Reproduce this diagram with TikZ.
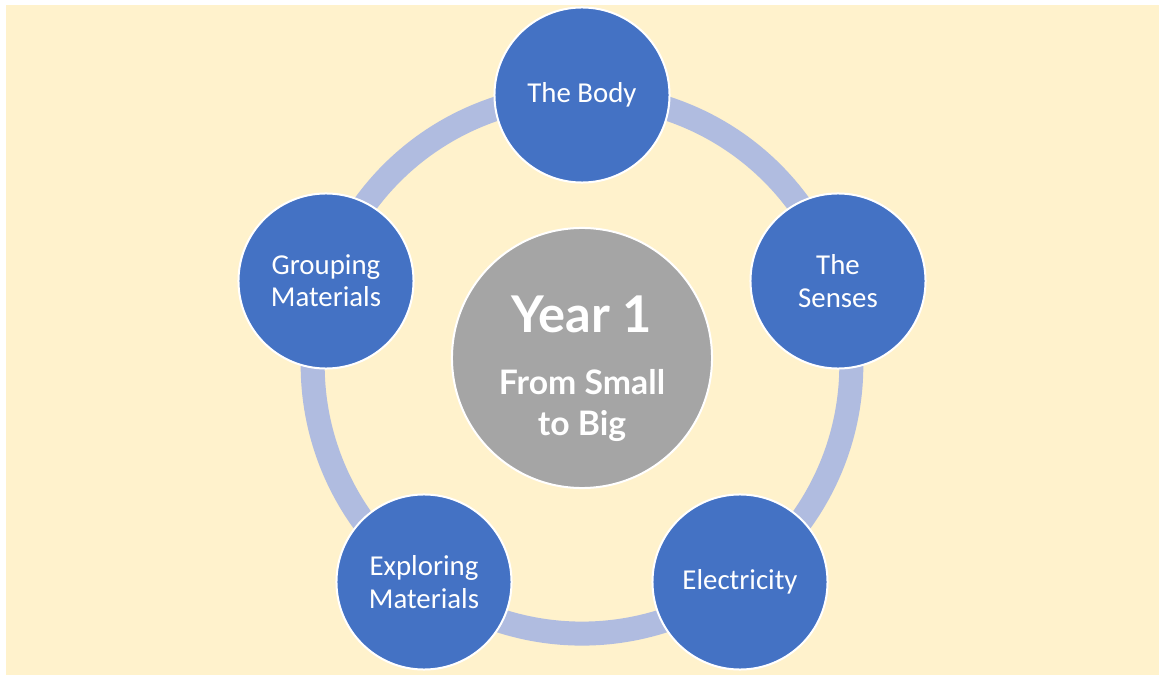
\documentclass[tikz,border=0pt]{standalone}
\usepackage{fontspec}
\setmainfont{Carlito}
\newfontfamily\roundfont{Lato}
\usetikzlibrary{backgrounds}
\definecolor{pagebg}{RGB}{255,242,204}
\definecolor{topicblue}{RGB}{68,114,196}
\definecolor{ringblue}{RGB}{176,188,224}
\definecolor{hubgrey}{RGB}{165,165,165}

\begin{document}
\begin{tikzpicture}[x=0.025cm,y=-0.025cm,
  topic/.style={circle,fill=topicblue,draw=white,line width=0.05cm,minimum size=4.375cm,inner sep=0pt,align=center,text=white,font=\fontsize{20.5}{23}\selectfont},
  hub/.style={circle,fill=hubgrey,draw=white,line width=0.05cm,minimum size=6.5cm,inner sep=0pt,align=center,text=white,font=\roundfont\bfseries\fontsize{24}{28.5}\selectfont},
  ringline/.style={draw=ringblue,line width=0.6cm,looseness=0.95}]
\useasboundingbox (0,0) rectangle (1160,675);

\node[hub] (year) at (582,358) {\rule{0pt}{1.45cm}\fontsize{36}{40}\selectfont Year 1\\[0.55cm]
  From Small\\to Big};

\node[topic] (body) at (582,95) {The Body};
\node[topic] (senses) at (838,281) {The\\Senses};
\node[topic] (electricity) at (740,582) {Electricity};
\node[topic] (exploring) at (424,582) {Exploring\\Materials};
\node[topic] (grouping) at (326,281) {Grouping\\Materials};

\begin{pgfonlayer}{background}
\fill[pagebg] (6,5) rectangle (1159,675);
\draw[ringline] (body.center) to[bend left=36] (senses.center);
\draw[ringline] (senses.center) to[bend left=36] (electricity.center);
\draw[ringline] (electricity.center) to[bend left=36] (exploring.center);
\draw[ringline] (exploring.center) to[bend left=36] (grouping.center);
\draw[ringline] (grouping.center) to[bend left=36] (body.center);
\end{pgfonlayer}

\end{tikzpicture}
\end{document}
